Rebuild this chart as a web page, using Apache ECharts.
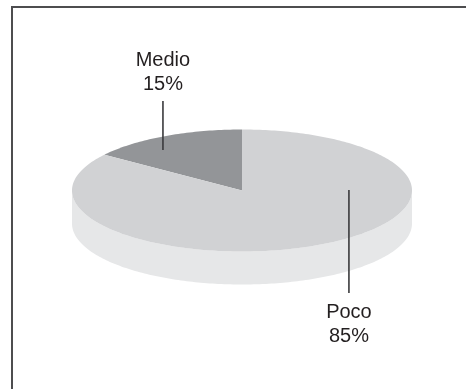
<!DOCTYPE html>
<html>
<head>
<meta charset="utf-8">
<style>
  html, body { margin: 0; padding: 0; background: #ffffff; }
  #chart { width: 466px; height: 389px; }
</style>
<script src="https://cdn.jsdelivr.net/npm/echarts@6/dist/echarts.min.js"></script>
</head>
<body>
<div id="chart"></div>
<script>
// Slice data
const categories = ['Medio', 'Poco'];
const shares = [15, 85];

// Slice colours (top face) and the shared rim colour
const topColors = ['#939598', '#d1d2d4'];
const rimColor = '#e6e7e8';

// Pie geometry (pixels)
const pie = { cx: 242, cy: 190.5, rx: 170, ry: 61, depth: 33 };

// Leader-line anchors in ellipse units, with line length (px, negative = upward)
const labelLayout = [
  { ax: -0.465, ay: -0.665, len: -49, gap: 4 },
  { ax: 0.629, ay: -0.008, len: 103, gap: 7 }
];

const total = shares.reduce((a, b) => a + b, 0);
const startAngles = [];
{
  let acc = 0;
  shares.forEach(v => { startAngles.push(acc / total * 360); acc += v; });
}

// Angle measured counter-clockwise from 12 o'clock
function pt(deg, dy) {
  const r = deg * Math.PI / 180;
  return [pie.cx - pie.rx * Math.sin(r), pie.cy - pie.ry * Math.cos(r) + (dy || 0)];
}

function arc(a0, a1, dy) {
  const pts = [];
  const n = Math.max(2, Math.ceil(Math.abs(a1 - a0)));
  for (let i = 0; i <= n; i++) pts.push(pt(a0 + (a1 - a0) * i / n, dy));
  return pts;
}

function renderSlice(params, api) {
  const i = params.dataIndex;
  const v = api.value(1);
  const a0 = startAngles[i];
  const a1 = a0 + v / total * 360;
  const children = [];

  // Visible front rim: portion of the slice between 90° and 270°
  const s0 = Math.max(a0, 90), s1 = Math.min(a1, 270);
  if (s1 > s0) {
    const top = arc(s0, s1, 0);
    const bottom = arc(s1, s0, pie.depth);
    children.push({
      type: 'polygon', z2: 1,
      shape: { points: top.concat(bottom) },
      style: { fill: rimColor }
    });
  }

  // Top face
  children.push({
    type: 'polygon', z2: 2,
    shape: { points: [[pie.cx, pie.cy]].concat(arc(a0, a1, 0)) },
    style: { fill: topColors[i] }
  });

  // Leader line and label
  const L = labelLayout[i];
  const x = pie.cx + L.ax * pie.rx;
  const y = pie.cy + L.ay * pie.ry;
  const y2 = y + L.len;
  children.push({
    type: 'line', z2: 3,
    shape: { x1: x, y1: y, x2: x, y2: y2 },
    style: { stroke: '#3a3a3c', lineWidth: 1.6 }
  });
  const up = L.len < 0;
  children.push({
    type: 'text', z2: 4,
    x: x, y: up ? y2 - L.gap : y2 + L.gap,
    style: {
      text: categories[i] + '\n' + shares[i] + '%',
      fill: '#231f20',
      font: '20px "Liberation Sans", Arial, sans-serif',
      lineHeight: 24,
      align: 'center',
      verticalAlign: up ? 'bottom' : 'top'
    }
  });

  return { type: 'group', children: children };
}

const chart = echarts.init(document.getElementById('chart'), null, { renderer: 'canvas' });
chart.setOption({
  animation: false,
  backgroundColor: '#ffffff',
  graphic: [
    { type: 'line', shape: { x1: 12, y1: 7, x2: 466, y2: 7 }, style: { stroke: '#4d4d4f', lineWidth: 2 } },
    { type: 'line', shape: { x1: 12, y1: 6, x2: 12, y2: 389 }, style: { stroke: '#4d4d4f', lineWidth: 2 } }
  ],
  series: [{
    type: 'custom',
    coordinateSystem: 'none',
    renderItem: renderSlice,
    data: categories.map((c, i) => ({ name: c, value: [i, shares[i]] }))
  }]
});
</script>
</body>
</html>
